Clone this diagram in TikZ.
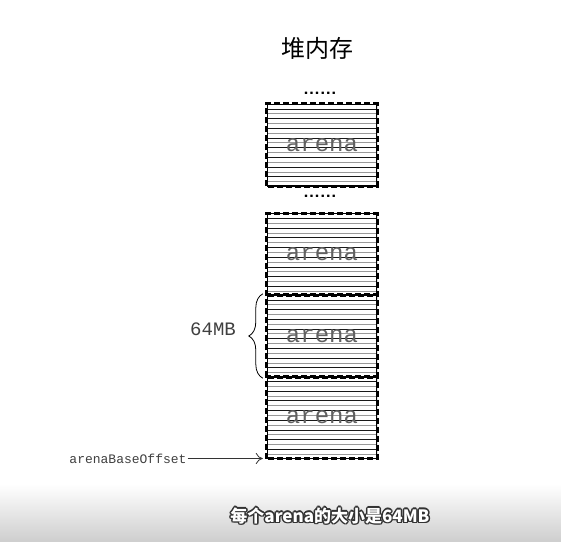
\documentclass[tikz,border=0pt]{standalone}
\usepackage{fontspec}
\setmonofont{Liberation Mono}
\newfontfamily\cjk{Noto Sans CJK SC}
\usetikzlibrary{arrows.meta,decorations.pathreplacing}

\tikzset{
  arenabox/.style={minimum width=110pt, minimum height=82pt, inner sep=0pt,
    font=\ttfamily\fontsize{24}{24}\selectfont, text=black!62,
    path picture={
      \foreach \k in {1,...,16} {
        \pgfmathsetmacro{\shadeval}{isodd(\k) ? 90 : 40}
        \draw[line width=0.7pt, black!\shadeval]
          ([yshift=-\k*4.85pt]path picture bounding box.north west) --
          ([yshift=-\k*4.85pt]path picture bounding box.north east);
      }
      \draw[line width=1.4pt] (path picture bounding box.south west) rectangle (path picture bounding box.north east);
    }},
  arenaedge/.style={line width=3.2pt, dash pattern=on 6pt off 3pt},
  dotsrow/.style={font=\sffamily\bfseries\fontsize{18}{18}\selectfont, inner sep=0pt},
  sidelabel/.style={font=\ttfamily, text=black!75, inner sep=1pt}
}

\begin{document}
\begin{tikzpicture}[x=1pt,y=-1pt]
\useasboundingbox (0,0) rectangle (561,541);
\fill[white] (0,0) rectangle (561,541);
\shade[top color=white, bottom color=black!19] (0,484) rectangle (561,541);

\node[font=\cjk\fontsize{24}{24}\selectfont] (title) at (317,48) {堆内存};

\node[dotsrow] (dotsa) at (320,93) {......};
\node[arenabox] (arenaA) at (322,145) {arena};
\node[dotsrow] (dotsb) at (320,196) {......};
\node[arenabox] (arenaB) at (322,254.5) {arena};
\node[arenabox] (arenaC) at (322,336) {arena};
\node[arenabox] (arenaD) at (322,417.5) {arena};
\foreach \b in {arenaA,arenaB,arenaC,arenaD}
  \draw[arenaedge] (\b.south west) rectangle (\b.north east);

% size of one arena
\draw[decorate, decoration={brace, amplitude=14pt}, line width=0.8pt]
  ([xshift=-4pt,yshift=-1pt]arenaC.south west) -- ([xshift=-4pt,yshift=1pt]arenaC.north west);
\node[sidelabel, font=\ttfamily\fontsize{19}{19}\selectfont] (size) at (213,329) {64MB};

% base offset
\node[sidelabel, font=\ttfamily\fontsize{13}{13}\selectfont] (base) at (128,458.5) {arenaBaseOffset};
\coordinate (baseend) at ([xshift=-4pt]arenaD.south west);
\draw[-{To[length=7pt,width=11pt]}, line width=0.8pt, black!80] (base.east) -- (base.east -| baseend);

% subtitle
\foreach \dx/\dy in {1.5/0,-1.5/0,0/1.5,0/-1.5,1.1/1.1,-1.1/1.1,1.1/-1.1,-1.1/-1.1}
  \node[font=\cjk\bfseries\fontsize{17}{17}\selectfont, text=black!80] at (330+\dx,516+\dy) {每个arena的大小是64MB};
\node[font=\cjk\bfseries\fontsize{17}{17}\selectfont, text=white] (caption) at (330,516) {每个arena的大小是64MB};
\end{tikzpicture}
\end{document}
